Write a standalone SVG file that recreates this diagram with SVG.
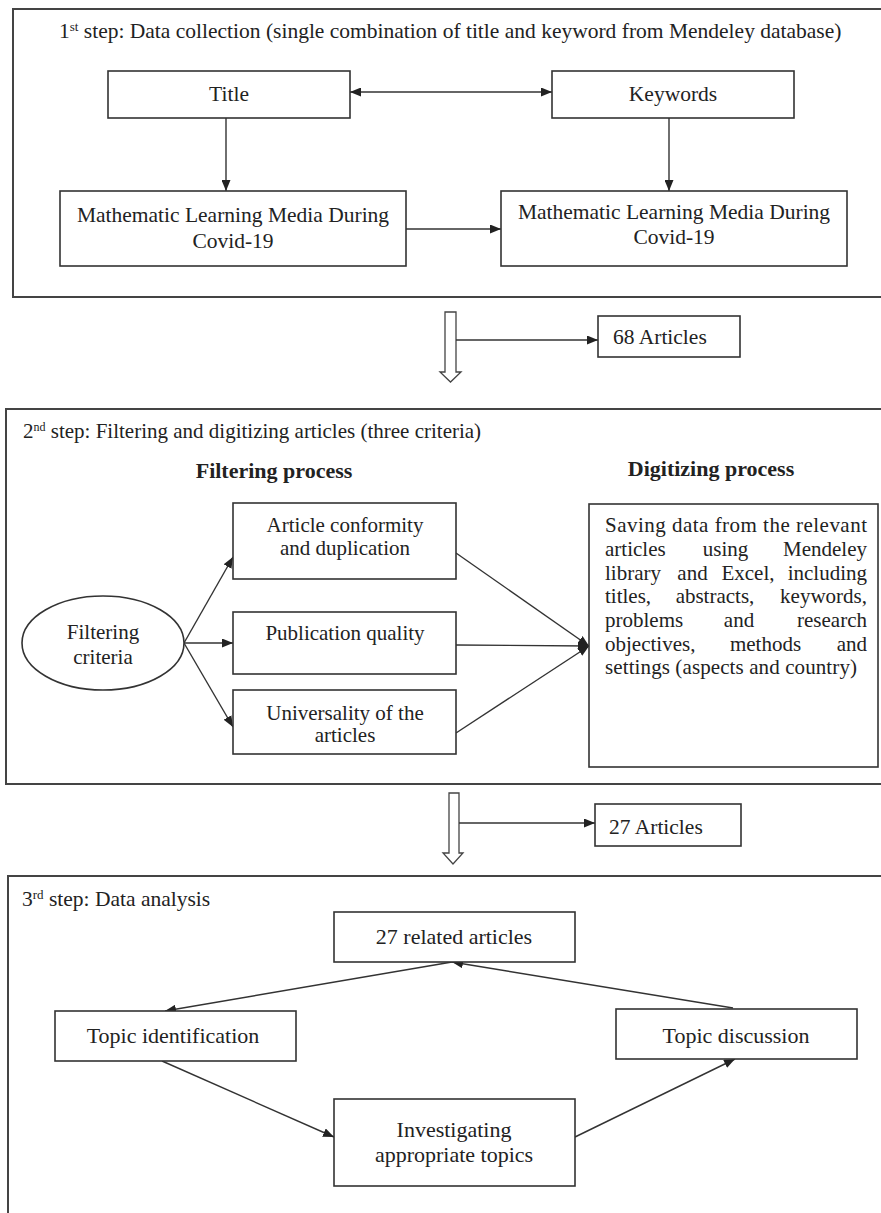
<svg xmlns="http://www.w3.org/2000/svg" width="881" height="1213" viewBox="0 0 881 1213">
<defs>
<marker id="ah" viewBox="0 0 11 9" refX="11" refY="4.5" markerWidth="11" markerHeight="9" markerUnits="userSpaceOnUse" orient="auto-start-reverse">
<path d="M0,0 L11,4.5 L0,9 z" fill="#222"/>
</marker>
<style>
.frame{fill:none;stroke:#444;stroke-width:2}
.box{fill:#fff;stroke:#333;stroke-width:1.6}
.arr{fill:none;stroke:#333;stroke-width:1.4;marker-end:url(#ah)}
.t{font-family:"Liberation Serif","Times New Roman",serif;font-size:21.5px;fill:#222}
.t3{font-family:"Liberation Serif","Times New Roman",serif;font-size:22px;fill:#222}
.h{font-family:"Liberation Serif","Times New Roman",serif;font-size:21.5px;fill:#222}
.c{font-family:"Liberation Serif","Times New Roman",serif;font-size:21px;fill:#222}
.b{font-family:"Liberation Serif","Times New Roman",serif;font-size:22px;font-weight:bold;fill:#222}
.mid{text-anchor:middle}
.hollow{fill:#fff;stroke:#444;stroke-width:1.3}
</style>
</defs>
<rect width="881" height="1213" fill="#fff"/>

<!-- Section frames -->
<g id="step1-frame">
<rect class="frame" x="13" y="9" width="890" height="288"/>
<text class="h" x="59" y="38">1<tspan font-size="13" dy="-7">st</tspan><tspan dy="7"> step: Data collection (single combination of title and keyword from Mendeley database)</tspan></text>
</g>
<g id="step2-frame">
<rect class="frame" x="6" y="409" width="890" height="375"/>
<text class="c" x="23" y="438" font-size="20.5">2<tspan font-size="12" dy="-7">nd</tspan><tspan dy="7"> step: Filtering and digitizing articles (three criteria)</tspan></text>
<text class="b mid" x="274" y="478">Filtering process</text>
<text class="b mid" x="711" y="476">Digitizing process</text>
</g>
<g id="step3-frame">
<rect class="frame" x="8" y="876" width="890" height="400"/>
<text class="h" x="22" y="906">3<tspan font-size="13" dy="-7">rd</tspan><tspan dy="7"> step: Data analysis</tspan></text>
</g>

<!-- Connectors -->
<g id="connectors">
<line class="arr" x1="350" y1="92" x2="552" y2="92" marker-start="url(#ah)"/>
<line class="arr" x1="226" y1="118" x2="226" y2="191"/>
<line class="arr" x1="669" y1="118" x2="669" y2="191"/>
<line class="arr" x1="406" y1="229" x2="501" y2="229"/>

<path class="hollow" d="M445,312 H456 V372 H461 L450.5,382 L440,372 H445 Z"/>
<line class="arr" x1="456" y1="340" x2="598" y2="340"/>

<line class="arr" x1="184" y1="643" x2="233" y2="557"/>
<line class="arr" x1="184" y1="643" x2="233" y2="643"/>
<line class="arr" x1="184" y1="643" x2="233" y2="727"/>
<line class="arr" x1="456" y1="553" x2="589" y2="646"/>
<line class="arr" x1="456" y1="645" x2="589" y2="646"/>
<line class="arr" x1="456" y1="733" x2="589" y2="646"/>

<path class="hollow" d="M449,793 H459 V853 H463 L453,864 L443,853 H449 Z"/>
<line class="arr" x1="459" y1="823" x2="595" y2="823"/>

<line class="arr" x1="452" y1="962" x2="165" y2="1011"/>
<line class="arr" x1="733" y1="1008" x2="452" y2="962"/>
<line class="arr" x1="162" y1="1061" x2="334" y2="1137"/>
<line class="arr" x1="575" y1="1137" x2="735" y2="1059"/>
</g>

<!-- Step 1 nodes -->
<g id="title">
<rect class="box" x="108" y="71" width="242" height="47"/>
<text class="t mid" x="229" y="101">Title</text>
</g>
<g id="keywords">
<rect class="box" x="552" y="71" width="242" height="47"/>
<text class="t mid" x="673" y="101">Keywords</text>
</g>
<g id="media-left">
<rect class="box" x="60" y="191" width="346" height="75"/>
<text class="t mid" x="233" y="222">Mathematic Learning Media During</text>
<text class="t mid" x="233" y="248">Covid-19</text>
</g>
<g id="media-right">
<rect class="box" x="501" y="191" width="346" height="75"/>
<text class="t mid" x="674" y="219">Mathematic Learning Media During</text>
<text class="t mid" x="674" y="244">Covid-19</text>
</g>
<g id="articles-68">
<rect class="box" x="598" y="316" width="142" height="41"/>
<text class="t" x="613" y="344" font-size="21">68 Articles</text>
</g>

<!-- Step 2 nodes -->
<g id="filtering-criteria">
<ellipse class="box" cx="103" cy="643" rx="81" ry="47"/>
<text class="c mid" x="103" y="639">Filtering</text>
<text class="c mid" x="103" y="664">criteria</text>
</g>
<g id="conformity">
<rect class="box" x="233" y="503" width="223" height="76"/>
<text class="c mid" x="345" y="532">Article conformity</text>
<text class="c mid" x="345" y="555">and duplication</text>
</g>
<g id="quality">
<rect class="box" x="233" y="612" width="223" height="62"/>
<text class="c mid" x="345" y="640">Publication quality</text>
</g>
<g id="universality">
<rect class="box" x="233" y="690" width="223" height="64"/>
<text class="c mid" x="345" y="720">Universality of the</text>
<text class="c mid" x="345" y="742">articles</text>
</g>
<g id="digitizing">
<rect class="box" x="589" y="504" width="289" height="263"/>
<text class="c" x="605" y="532" textLength="262" lengthAdjust="spacing">Saving data from the relevant</text>
<text class="c" y="556"><tspan x="605">articles</tspan><tspan x="725.5" text-anchor="middle">using</tspan><tspan x="867" text-anchor="end">Mendeley</tspan></text>
<text class="c" y="580"><tspan x="605">library</tspan><tspan x="692.5" text-anchor="middle">and</tspan><tspan x="748" text-anchor="middle">Excel,</tspan><tspan x="867" text-anchor="end">including</tspan></text>
<text class="c" y="603"><tspan x="605">titles,</tspan><tspan x="715" text-anchor="middle">abstracts,</tspan><tspan x="867" text-anchor="end">keywords,</tspan></text>
<text class="c" y="627"><tspan x="605">problems</tspan><tspan x="739" text-anchor="middle">and</tspan><tspan x="867" text-anchor="end">research</tspan></text>
<text class="c" y="651"><tspan x="605">objectives,</tspan><tspan x="765.5" text-anchor="middle">methods</tspan><tspan x="867" text-anchor="end">and</tspan></text>
<text class="c" x="605" y="674" textLength="252" lengthAdjust="spacing">settings (aspects and country)</text>
</g>
<g id="articles-27">
<rect class="box" x="595" y="804" width="146" height="42"/>
<text class="t" x="609" y="834" font-size="26">27 Articles</text>
</g>

<!-- Step 3 nodes -->
<g id="related">
<rect class="box" x="334" y="912" width="241" height="50"/>
<text class="t3 mid" x="454" y="944">27 related articles</text>
</g>
<g id="identification">
<rect class="box" x="55" y="1011" width="241" height="50"/>
<text class="t3 mid" x="173" y="1043">Topic identification</text>
</g>
<g id="discussion">
<rect class="box" x="616" y="1009" width="241" height="50"/>
<text class="t3 mid" x="736" y="1043">Topic discussion</text>
</g>
<g id="investigating">
<rect class="box" x="334" y="1099" width="241" height="87"/>
<text class="t3 mid" x="454" y="1137">Investigating</text>
<text class="t3 mid" x="454" y="1162">appropriate topics</text>
</g>
</svg>
